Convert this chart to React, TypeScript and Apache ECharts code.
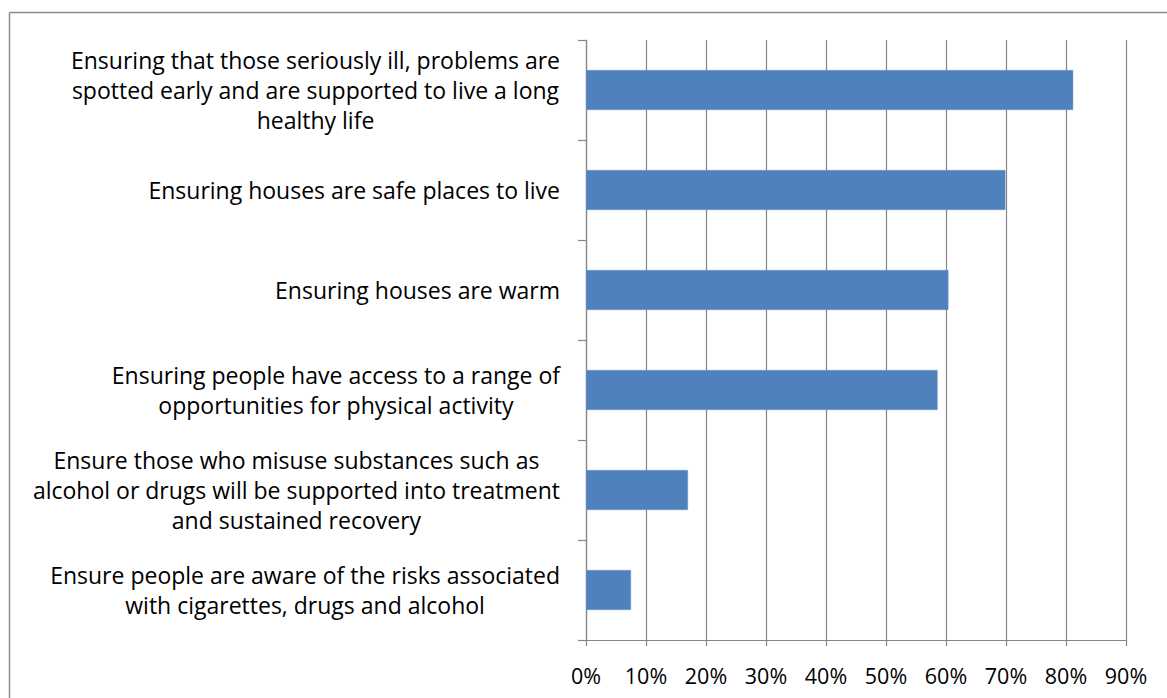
import React, { useEffect, useRef } from "react";
import * as echarts from "echarts";

const categories: string[] = [
  "Ensuring that those seriously ill, problems are\nspotted early and are supported to live a long\nhealthy life",
  "Ensuring houses are safe places to live",
  "Ensuring houses are warm",
  "Ensuring people have access to a range of\nopportunities for physical activity",
  "Ensure those who misuse substances such as\nalcohol or drugs will be supported into treatment\nand sustained recovery",
  "Ensure people are aware of the risks associated\nwith cigarettes, drugs and alcohol",
];

const values: number[] = [81.2, 69.9, 60.4, 58.6, 17.0, 7.5];

const FONT = "'Open Sans', 'Noto Sans', sans-serif";
const GRAY = "#868686";

export default function App() {
  const ref = useRef<HTMLDivElement>(null);

  useEffect(() => {
    if (!ref.current) return;
    const chart = echarts.init(ref.current, undefined, { renderer: "svg" });
    chart.setOption({
      animation: false,
      backgroundColor: "#ffffff",
      grid: { left: 586, right: 41, top: 40, bottom: 58, containLabel: false },
      xAxis: {
        type: "value",
        min: 0,
        max: 90,
        interval: 10,
        axisLine: { show: true, lineStyle: { color: GRAY, width: 1.2 } },
        axisTick: { show: true, length: 6, lineStyle: { color: GRAY, width: 1.2 } },
        splitLine: { show: true, lineStyle: { color: GRAY, width: 1.2 } },
        axisLabel: {
          formatter: (v: number) => `${v}%`,
          color: "#000",
          fontSize: 21.5,
          fontFamily: FONT,
          margin: 24,
        },
      },
      yAxis: {
        type: "category",
        inverse: true,
        data: categories,
        axisLine: { show: true, lineStyle: { color: GRAY, width: 1.2 } },
        axisTick: { show: true, length: 8, lineStyle: { color: GRAY, width: 1.2 } },
        axisLabel: {
          margin: 26,
          color: "#000",
          fontSize: 23,
          fontFamily: FONT,
          lineHeight: 30,
          formatter: (v: string) =>
            v
              .split("\n")
              .map((l) => `{c|${l}}`)
              .join("\n"),
          rich: {
            c: {
              align: "center",
              fontSize: 23,
              fontFamily: FONT,
              lineHeight: 30,
              color: "#000",
            },
          },
        },
      },
      graphic: [
        {
          type: "line",
          shape: { x1: 9.5, y1: 12.5, x2: 9.5, y2: 700 },
          style: { stroke: "#8c8c8c", lineWidth: 1.5 },
        },
        {
          type: "line",
          shape: { x1: 9.5, y1: 12.5, x2: 1170, y2: 12.5 },
          style: { stroke: "#8c8c8c", lineWidth: 1.5 },
        },
      ],
      series: [
        {
          type: "bar",
          data: values,
          barCategoryGap: "60%",
          itemStyle: { color: "#4f81bd", borderColor: "#6e97c9", borderWidth: 0.5 },
        },
      ],
    });
    return () => chart.dispose();
  }, []);

  return (
    <div
      ref={ref}
      style={{ position: "fixed", left: 0, top: 0, width: 1167, height: 698, background: "#fff" }}
    />
  );
}
